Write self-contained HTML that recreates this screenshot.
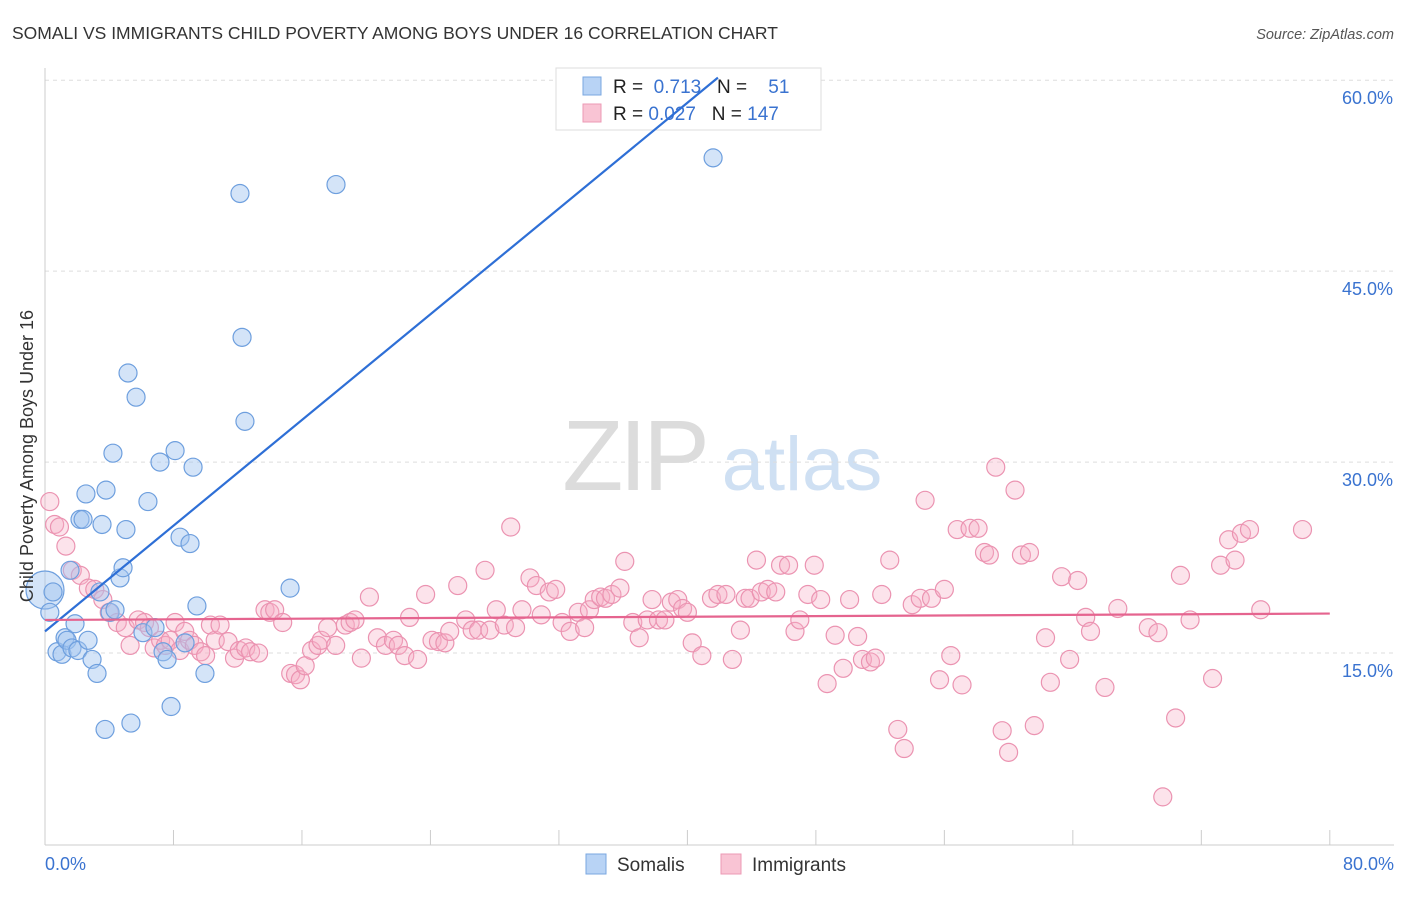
<!DOCTYPE html>
<html><head><meta charset="utf-8"><style>
body{margin:0;background:#fff;font-family:"Liberation Sans",sans-serif}
svg text{font-family:"Liberation Sans",sans-serif}
</style></head><body>
<svg id="chart" width="1406" height="892" xmlns="http://www.w3.org/2000/svg">
<text x="12" y="39" font-size="17.5" fill="#333">SOMALI VS IMMIGRANTS CHILD POVERTY AMONG BOYS UNDER 16 CORRELATION CHART</text>
<text x="1394" y="39" font-size="14.5" fill="#555" text-anchor="end" font-style="italic">Source: ZipAtlas.com</text>
<g>
<text x="634" y="490" font-size="100" fill="#dcdcdc" font-family="Liberation Serif" text-anchor="middle" letter-spacing="-4">ZIP</text>
<text x="802" y="490" font-size="76" fill="#cfe0f3" text-anchor="middle">atlas</text>
</g>
<g id="grid"></g>
<g id="axes"></g>
<g id="pts"></g>
<g>
<rect x="556" y="68" width="265" height="62" fill="#fff" stroke="#ddd"/>
<rect x="583" y="77" width="18" height="18" fill="#b8d3f5" stroke="#7aa7e0"/>
<rect x="583" y="104" width="18" height="18" fill="#f9c4d4" stroke="#ec9ab5"/>
<text x="613" y="93" font-size="19" fill="#222">R = <tspan fill="#3a73d0">&#160;0.713</tspan>&#160;&#160;&#160;N = <tspan fill="#3a73d0">&#160;&#160;&#160;51</tspan></text>
<text x="613" y="120" font-size="19" fill="#222">R = <tspan fill="#3a73d0">0.027</tspan>&#160;&#160;&#160;N = <tspan fill="#3a73d0">147</tspan></text>
</g>
<g id="trend"></g>
<g>
<rect x="586" y="854" width="20" height="20" fill="#b8d3f5" stroke="#7aa7e0"/>
<text x="617" y="871" font-size="19" fill="#333">Somalis</text>
<rect x="721" y="854" width="20" height="20" fill="#f9c4d4" stroke="#ec9ab5"/>
<text x="752" y="871" font-size="19" fill="#333">Immigrants</text>
</g>
<text transform="translate(33,456) rotate(-90)" font-size="18" fill="#333" text-anchor="middle">Child Poverty Among Boys Under 16</text>
</svg>
<script>
const blueX=[0,0.3,0.5,0.75,1.06,1.25,1.37,1.56,1.68,1.87,2.05,2.18,2.37,2.55,2.68,2.93,3.24,3.42,3.55,3.74,3.8,4.05,4.23,4.36,4.67,4.86,5.04,5.17,5.35,5.67,6.1,6.41,6.85,7.16,7.35,7.6,7.85,8.1,8.41,8.72,9.03,9.22,9.46,9.96,12.14,12.27,12.45,15.26,18.12,41.6,37.7];
const blueY=[19.95,18.2,19.8,15.1,14.9,16.2,16.0,21.5,15.4,17.3,15.2,25.5,25.5,27.5,16.0,14.5,13.4,19.8,25.1,9.0,27.8,18.2,30.7,18.4,20.9,21.7,24.7,37.0,9.5,35.1,16.6,26.9,17.0,30.0,15.1,14.5,10.8,30.9,24.1,15.8,23.6,29.6,18.7,13.4,51.1,39.8,33.2,20.1,51.8,53.9,58.2];
const pinkX=[0.3,0.6,0.9,1.3,1.7,2.2,2.7,3.1,3.6,4.0,4.5,5.0,5.3,5.8,6.2,6.5,6.8,7.2,7.5,7.8,8.1,8.4,8.7,9.0,9.3,9.7,10.0,10.3,10.6,10.9,11.4,11.8,12.1,12.5,12.8,13.3,13.7,14.0,14.3,14.8,15.3,15.6,15.9,16.2,16.6,17.0,17.2,17.6,18.1,18.7,19.0,19.3,19.7,20.2,20.7,21.2,21.7,22.0,22.4,22.7,23.2,23.7,24.1,24.5,24.9,25.2,25.7,26.2,26.6,27.0,27.4,27.7,28.1,28.6,29.0,29.3,29.7,30.2,30.6,30.9,31.4,31.8,32.2,32.7,33.2,33.6,33.9,34.2,34.6,34.9,35.3,35.8,36.1,36.6,37.0,37.5,37.8,38.2,38.6,39.0,39.4,39.7,40.0,40.3,40.9,41.5,41.9,42.4,42.8,43.3,43.6,43.9,44.3,44.6,45.0,45.5,45.8,46.3,46.7,47.0,47.5,47.9,48.3,48.7,49.2,49.7,50.1,50.6,50.9,51.4,51.7,52.1,52.6,53.1,53.5,54.0,54.5,54.8,55.2,55.7,56.0,56.4,56.8,57.1,57.6,58.1,58.5,58.8,59.2,59.6,60.0,60.4,60.8,61.3,61.6,62.3,62.6,63.3,63.8,64.3,64.8,65.1,66.0,66.8,68.7,69.3,69.6,70.4,70.7,71.3,72.7,73.2,73.7,74.1,74.5,75.0,75.7,78.3];
const pinkY=[26.9,25.1,24.9,23.4,21.5,21.1,20.1,20.0,19.2,18.2,17.4,17.0,15.6,17.6,17.4,17.0,15.4,16.0,15.6,16.0,17.4,15.2,16.7,16.0,15.6,15.1,14.8,17.2,16.0,17.2,15.9,14.6,15.2,15.4,15.1,15.0,18.4,18.2,18.4,17.4,13.4,13.3,12.9,14.0,15.2,15.6,16.0,17.0,15.6,17.2,17.4,17.6,14.6,19.4,16.2,15.6,16.0,15.6,14.8,17.8,14.5,19.6,16.0,15.9,15.8,16.7,20.3,17.6,16.8,16.8,21.5,16.8,18.4,17.2,24.9,17.0,18.4,20.9,20.3,18.0,19.8,20.0,17.4,16.7,18.2,17.0,18.4,19.2,19.4,19.3,19.6,20.1,22.2,17.4,16.2,17.6,19.2,17.6,17.6,19.0,19.2,18.5,18.2,15.8,14.8,19.3,19.6,19.6,14.5,16.8,19.3,19.3,22.3,19.8,20.0,19.8,21.9,21.9,16.7,17.6,19.6,21.9,19.2,12.6,16.4,13.8,19.2,16.3,14.5,14.3,14.6,19.6,22.3,9.0,7.5,18.8,19.3,27.0,19.3,12.9,20.0,14.8,24.7,12.5,24.8,24.8,22.9,22.7,29.6,8.9,7.2,27.8,22.7,22.9,9.3,16.2,12.7,21.0,14.5,20.7,17.8,16.7,12.3,18.5,17.0,16.6,3.7,9.9,21.1,17.6,13.0,21.9,23.9,22.3,24.4,24.7,18.4,24.7];
const trendBlueX=[0,41.9], trendBlueY=[16.7,60.2];
const trendPinkX=[0,80], trendPinkY=[17.6,18.1];
const yTicks=[15,30,45,60];
const yTickLabels=["15.0%","30.0%","45.0%","60.0%"];
const xTicks=[0,8,16,24,32,40,48,56,64,72,80];
const NS="http://www.w3.org/2000/svg";
const X=v=>45+v*16.06;
const Y=v=>844-v*12.73;
function mk(tag,attrs,parent){const e=document.createElementNS(NS,tag);for(const k in attrs)e.setAttribute(k,attrs[k]);parent.appendChild(e);return e;}
const grid=document.getElementById('grid'),axes=document.getElementById('axes'),pts=document.getElementById('pts'),trend=document.getElementById('trend');
yTicks.forEach((t,i)=>{
 const l=mk('line',{x1:45,x2:1394,y1:Y(t),y2:Y(t),stroke:'#ddd','stroke-dasharray':'4,4'},grid);
 
 
 const tx=mk('text',{x:1393,y:Y(t)+24,'font-size':18,fill:'#3a73d0','text-anchor':'end'},axes);
 tx.textContent=yTickLabels[i];
 
 
});
const yl=mk('line',{x1:45,x2:45,y1:68,y2:845,stroke:'#ccc'},axes);


const xl=mk('line',{x1:45,x2:1394,y1:845,y2:845,stroke:'#ccc'},axes);


xTicks.forEach(t=>{
 const l=mk('line',{x1:X(t),x2:X(t),y1:830,y2:845,stroke:'#ccc'},axes);
 
 
});
const x0=mk('text',{x:45,y:870,'font-size':18,fill:'#3a73d0'},axes);x0.textContent='0.0%';


const x1=mk('text',{x:1394,y:870,'font-size':18,fill:'#3a73d0','text-anchor':'end'},axes);x1.textContent='80.0%';


pinkX.forEach((v,i)=>{
 const c=mk('circle',{cx:X(v),cy:Y(pinkY[i]),r:9,fill:'rgba(246,176,198,0.35)',stroke:'#eb93b1','stroke-width':1.2},pts);
 
 
});
blueX.forEach((v,i)=>{
 const c=mk('circle',{cx:X(v),cy:Y(blueY[i]),r:i===0?19:9,fill:'rgba(160,195,240,0.45)',stroke:'#6e9fde','stroke-width':1.2},pts);
 
 
});
const tb=mk('line',{x1:X(trendBlueX[0]),y1:Y(trendBlueY[0]),x2:X(trendBlueX[1]),y2:Y(trendBlueY[1]),stroke:'#2e6fd6','stroke-width':2.2},trend);


const tp=mk('line',{x1:X(trendPinkX[0]),y1:Y(trendPinkY[0]),x2:X(trendPinkX[1]),y2:Y(trendPinkY[1]),stroke:'#e5648f','stroke-width':2.2},trend);


</script>
</body></html>
